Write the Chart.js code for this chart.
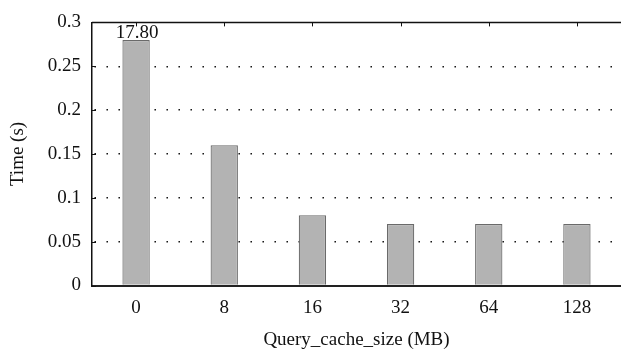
<!DOCTYPE html>
<html>
<head>
<meta charset="utf-8">
<script src="https://cdn.jsdelivr.net/npm/chart.js@4/dist/chart.umd.min.js"></script>
<style>
  html, body { margin: 0; padding: 0; background: #fff; }
  #wrap { width: 621px; height: 356px; }
</style>
</head>
<body>
<div id="wrap"><canvas id="c" width="621" height="356"></canvas></div>
<script>
const categories = ["0", "8", "16", "32", "64", "128"];
const timeValues = [0.28, 0.16, 0.08, 0.07, 0.07, 0.07];
const barLabels = ["17.80", "", "", "", "", ""];
const yTicks = [0, 0.05, 0.1, 0.15, 0.2, 0.25, 0.3];
const xTitle = "Query_cache_size (MB)";
const yTitle = "Time (s)";

const FONT = "'Liberation Serif', 'Times New Roman', serif";

const framePlugin = {
  id: 'frame',
  afterDatasetsDraw(chart) {
    const {ctx, chartArea: a, scales} = chart;
    ctx.save();
    ctx.strokeStyle = '#111';
    ctx.lineWidth = 1.5;
    ctx.beginPath();
    ctx.moveTo(a.left, a.top);
    ctx.lineTo(a.right, a.top);
    ctx.stroke();
    ctx.lineWidth = 1;
    categories.forEach((c, i) => {
      const x = Math.round(scales.x.getPixelForValue(i)) + 0.5;
      ctx.beginPath();
      ctx.moveTo(x, a.top);
      ctx.lineTo(x, a.top + 4);
      ctx.stroke();
    });
    yTicks.forEach(v => {
      const y = Math.round(scales.y.getPixelForValue(v)) + 0.5;
      ctx.beginPath();
      ctx.moveTo(a.left, y);
      ctx.lineTo(a.left + 4, y);
      ctx.stroke();
    });
    const meta = chart.getDatasetMeta(0);
    ctx.fillStyle = '#111';
    ctx.font = "19px " + FONT;
    ctx.textAlign = 'center';
    ctx.textBaseline = 'alphabetic';
    meta.data.forEach((bar, i) => {
      if (barLabels[i]) ctx.fillText(barLabels[i], bar.x + 1, bar.y - 2);
    });
    ctx.restore();
  }
};

new Chart(document.getElementById('c'), {
  type: 'bar',
  data: {
    labels: categories,
    datasets: [{
      data: timeValues,
      backgroundColor: '#b3b3b3',
      borderColor: '#6a6a6a',
      borderWidth: 1.2,
      categoryPercentage: 1,
      barPercentage: 0.31
    }]
  },
  options: {
    responsive: false,
    animation: false,
    devicePixelRatio: 1,
    layout: { padding: { left: 0, right: 0, top: 12.5, bottom: 0 } },
    plugins: { legend: { display: false }, tooltip: { enabled: false } },
    scales: {
      x: {
        type: 'category',
        offset: true,
        grid: { display: false, drawTicks: false },
        border: { display: true, color: '#222', width: 2 },
        ticks: { color: '#111', font: { family: FONT, size: 19 }, padding: 11 },
        title: { display: true, text: xTitle, color: '#111', font: { family: FONT, size: 19 }, padding: { top: 4, bottom: 5 } },
        afterFit(s) { s.height = 70.5; }
      },
      y: {
        min: 0,
        max: 0.3,
        afterBuildTicks(s) { s.ticks = yTicks.map(v => ({ value: v })); },
        grid: {
          drawTicks: false,
          color: (c) => (c.tick && (c.tick.value === 0 || c.tick.value === 0.3)) ? 'rgba(0,0,0,0)' : '#000',
          lineWidth: 1.4
        },
        border: { display: true, color: '#111', width: 1.5, dash: [1.4, 10.6], dashOffset: -2 },
        ticks: {
          color: '#111',
          font: { family: FONT, size: 19 },
          padding: 11,
          callback: (v) => String(v)
        },
        title: { display: true, text: yTitle, color: '#111', font: { family: FONT, size: 19 }, padding: { top: 7, bottom: 0 } },
        afterFit(s) { s.width = 92; }
      }
    }
  },
  plugins: [framePlugin]
});
</script>
</body>
</html>
